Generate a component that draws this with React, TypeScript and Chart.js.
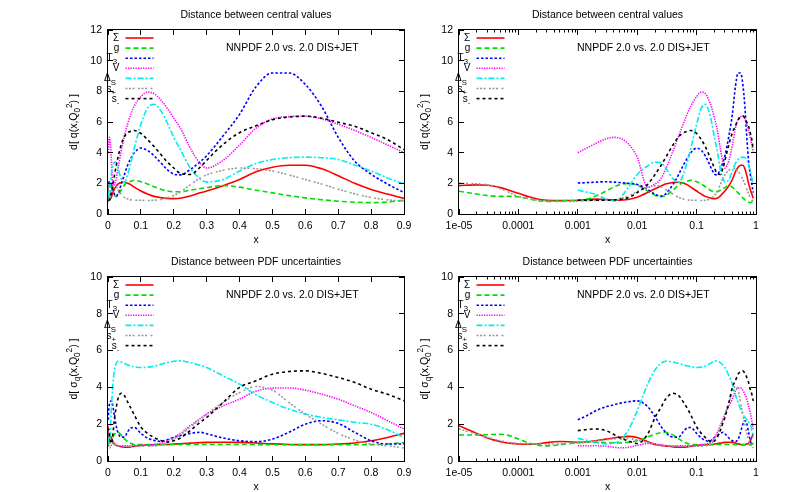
import React, { useEffect, useRef } from 'react';
import { Chart, registerables } from 'chart.js';

Chart.register(...registerables);

const FONT = '"Liberation Sans", Arial, Helvetica, sans-serif';
const FS = 10.5;
const LEG_FS = 10;
const LW = 1.6;
const N = null;

// x sampling points shared by every series (log-spaced at small x, linear at large x)
const xGrid = [1e-5, 2e-5, 3e-5, 5e-5, 7e-5, 1e-4, 1.5e-4, 2e-4, 3e-4, 5e-4, 7e-4,
  1e-3, 1.5e-3, 2e-3, 3e-3, 4e-3, 5e-3, 7e-3, 0.01, 0.015, 0.02, 0.025, 0.03, 0.04, 0.05, 0.06, 0.07, 0.08,
  0.1, 0.12, 0.14, 0.16, 0.18, 0.2, 0.22, 0.25, 0.28, 0.3, 0.35, 0.4, 0.45, 0.5, 0.55, 0.6, 0.65, 0.7, 0.75, 0.8, 0.85, 0.9];

// ---- Distance between central values ----
const cvSigma = [1.85, 1.9, 1.88, 1.72, 1.55, 1.35, 1.12, 1.0, 0.9, 0.87, 0.88,
  0.9, 0.95, 0.97, 0.95, 0.92, 0.9, 0.95, 1.1, 1.4, 1.65, 1.82, 1.95, 2.05, 2.07, 2.0, 1.9, 1.75,
  1.5, 1.3, 1.15, 1.07, 1.02, 1.0, 1.03, 1.17, 1.38, 1.5, 1.85, 2.25, 2.75, 3.05, 3.18, 3.18, 2.95, 2.5, 2.0, 1.6, 1.3, 1.02];
const cvG = [1.48, 1.3, 1.2, 1.15, 1.15, 1.12, 1.0, 0.88, 0.82, 0.85, 0.88,
  0.88, 1.0, 1.17, 1.5, 1.75, 1.9, 2.0, 1.88, 1.5, 1.22, 1.13, 1.2, 1.55, 1.9, 2.05, 2.14, 2.2,
  2.1, 1.95, 1.78, 1.62, 1.5, 1.45, 1.45, 1.55, 1.66, 1.72, 1.85, 1.75, 1.55, 1.38, 1.2, 1.05, 0.93, 0.83, 0.77, 0.74, 0.78, 0.9];
const cvT3 = [N, N, N, N, N, N, N, N, N, N, N,
  2.02, 2.05, 2.08, 2.1, 2.08, 2.05, 2.0, 1.93, 1.6, 1.28, 1.17, 1.3, 1.93, 2.58, 3.2, 3.65, 4.0,
  4.3, 4.15, 3.8, 3.35, 2.9, 2.6, 2.55, 2.9, 3.4, 3.8, 5.1, 6.5, 8.3, 9.2, 9.2, 8.45, 7.0, 5.0, 3.45, 2.6, 1.95, 1.4];
const cvV = [N, N, N, N, N, N, N, N, N, N, N,
  4.0, 4.35, 4.6, 4.9, 5.0, 4.95, 4.6, 3.7, 1.75, 1.95, 2.3, 2.9, 4.1, 5.1, 5.9, 6.55, 7.05,
  7.65, 7.95, 7.85, 7.45, 6.9, 6.25, 5.6, 4.3, 3.3, 3.0, 3.5, 4.5, 5.6, 6.2, 6.35, 6.38, 6.2, 5.85, 5.45, 5.0, 4.5, 4.0];
const cvDS = [N, N, N, N, N, N, N, N, N, N, N,
  1.56, 1.4, 1.28, 0.96, 0.85, 1.0, 1.7, 2.58, 3.13, 3.38, 3.35, 3.0, 2.3, 2.05, 2.6, 3.4, 4.3,
  5.85, 6.9, 7.15, 6.75, 5.95, 5.0, 4.2, 3.0, 2.3, 2.08, 2.25, 2.8, 3.3, 3.55, 3.67, 3.71, 3.67, 3.55, 3.2, 2.8, 2.35, 1.97];
const cvSp = [2.0, 1.97, 1.9, 1.65, 1.4, 1.15, 1.0, 0.92, 0.85, 0.82, 0.82,
  0.83, 0.86, 0.88, 0.89, 0.92, 0.98, 1.15, 1.47, 1.73, 1.84, 1.8, 1.6, 1.3, 1.08, 0.98, 0.92, 0.9,
  0.89, 0.88, 0.9, 0.95, 1.05, 1.2, 1.45, 1.9, 2.35, 2.55, 2.85, 3.0, 2.95, 2.8, 2.55, 2.25, 1.95, 1.62, 1.32, 1.08, 0.92, 0.84];
const cvSm = [N, N, N, N, N, N, N, N, N, N, N,
  0.9, 0.9, 0.9, 0.9, 0.92, 0.95, 1.06, 1.39, 1.93, 2.58, 3.15, 3.67, 4.5, 5.05, 5.3, 5.4, 5.45,
  5.25, 4.85, 4.4, 3.9, 3.4, 3.0, 2.65, 2.58, 3.05, 3.5, 4.54, 5.3, 5.75, 6.15, 6.32, 6.38, 6.25, 5.98, 5.72, 5.3, 4.85, 4.2];

// ---- Distance between PDF uncertainties ----
const unSigma = [1.92, 1.5, 1.25, 1.05, 0.97, 0.92, 0.91, 0.92, 1.0, 1.06, 1.05,
  1.02, 1.05, 1.1, 1.19, 1.25, 1.29, 1.34, 1.28, 1.05, 0.9, 0.85, 0.82, 0.77, 0.75, 0.75, 0.77, 0.8,
  0.85, 0.87, 0.88, 0.89, 0.9, 0.92, 0.94, 0.97, 1.0, 1.01, 1.02, 1.01, 0.98, 0.93, 0.9, 0.89, 0.89, 0.92, 0.98, 1.1, 1.28, 1.5];
const unG = [1.41, 1.42, 1.43, 1.45, 1.38, 1.2, 0.98, 0.87, 0.82, 0.88, 0.95,
  1.0, 1.02, 1.02, 1.0, 0.98, 0.98, 1.02, 1.1, 1.3, 1.46, 1.54, 1.56, 1.42, 1.2, 1.05, 0.95, 0.9,
  0.89, 0.89, 0.89, 0.9, 0.9, 0.9, 0.9, 0.9, 0.9, 0.9, 0.9, 0.9, 0.89, 0.89, 0.88, 0.88, 0.88, 0.88, 0.88, 0.89, 0.92, 1.0];
const unT3 = [N, N, N, N, N, N, N, N, N, N, N,
  2.24, 2.5, 2.73, 2.95, 3.05, 3.13, 3.22, 3.27, 2.95, 2.4, 1.9, 1.56, 1.3, 1.3, 1.6, 1.8, 1.82,
  1.5, 1.25, 1.12, 1.07, 1.15, 1.28, 1.38, 1.5, 1.56, 1.48, 1.25, 1.1, 1.05, 1.19, 1.56, 2.0, 2.19, 2.04, 1.56, 1.1, 0.92, 0.92];
const unV = [N, N, N, N, N, N, N, N, N, N, N,
  0.83, 0.83, 0.83, 0.8, 0.75, 0.72, 0.74, 0.85, 0.95, 0.93, 0.88, 0.84, 0.82, 0.82, 0.82, 0.83, 0.83,
  0.85, 0.87, 0.9, 0.97, 1.1, 1.28, 1.5, 1.92, 2.3, 2.55, 3.0, 3.36, 3.8, 3.96, 3.97, 3.85, 3.63, 3.36, 3.0, 2.64, 2.19, 1.74];
const unDS = [N, N, N, N, N, N, N, N, N, N, N,
  1.23, 1.1, 1.0, 0.93, 0.97, 1.1, 1.65, 2.73, 4.18, 4.95, 5.3, 5.42, 5.38, 5.3, 5.22, 5.16, 5.12,
  5.08, 5.1, 5.15, 5.25, 5.35, 5.42, 5.44, 5.35, 5.2, 5.08, 4.63, 4.18, 3.6, 3.18, 2.82, 2.55, 2.37, 2.24, 2.1, 2.0, 1.7, 1.28];
const unSp = [1.74, 1.46, 1.28, 1.1, 1.0, 0.96, 0.93, 0.92, 0.92, 0.93, 0.95,
  0.98, 1.02, 1.08, 1.15, 1.2, 1.22, 1.22, 1.15, 1.0, 0.9, 0.85, 0.83, 0.8, 0.8, 0.8, 0.8, 0.8,
  0.8, 0.8, 0.82, 0.87, 0.98, 1.2, 1.42, 1.83, 2.25, 2.55, 3.18, 3.72, 4.05, 3.85, 3.18, 2.55, 2.0, 1.5, 1.14, 0.92, 0.83, 0.71];
const unSm = [N, N, N, N, N, N, N, N, N, N, N,
  1.65, 1.72, 1.74, 1.65, 1.45, 1.28, 1.1, 0.95, 1.46, 2.37, 2.9, 3.36, 3.68, 3.55, 3.2, 2.85, 2.5,
  1.85, 1.5, 1.28, 1.12, 1.03, 1.1, 1.25, 1.65, 2.1, 2.37, 3.18, 4.0, 4.36, 4.72, 4.86, 4.9, 4.76, 4.54, 4.27, 3.9, 3.63, 3.27];

const centralSeries = [cvSigma, cvG, cvT3, cvV, cvDS, cvSp, cvSm];
const uncSeries = [unSigma, unG, unT3, unV, unDS, unSp, unSm];

type Seg = { t: string; s?: number };

const seriesPlain = ['Σ', 'g', 'T3', 'V', 'ΔS', 's+', 's-'];
const seriesNames: Seg[][] = [
  [{ t: 'Σ' }],
  [{ t: 'g' }],
  [{ t: 'T' }, { t: '3', s: -1 }],
  [{ t: 'V' }],
  [{ t: 'Δ' }, { t: 'S', s: -1 }],
  [{ t: 's' }, { t: '+', s: -1 }],
  [{ t: 's' }, { t: '-', s: -1 }],
];
const seriesColors = ['#ff0000', '#00dd00', '#0000ff', '#ff00ff', '#00eeee', '#999999', '#000000'];
const seriesDashes = [[], [5, 3], [2.5, 2], [1.3, 1.2], [6, 2, 2, 2], [2, 1.5, 2, 1.5, 2, 3.5], [3, 3]];

const xLinTicks = [0, 0.1, 0.2, 0.3, 0.4, 0.5, 0.6, 0.7, 0.8, 0.9];
const xLinLabels = ['0', '0.1', '0.2', '0.3', '0.4', '0.5', '0.6', '0.7', '0.8', '0.9'];
const xLogTicks = [1e-5, 1e-4, 1e-3, 1e-2, 1e-1, 1];
const xLogLabels = ['1e-05', '0.0001', '0.001', '0.01', '0.1', '1'];
const yTicksCentral = [0, 2, 4, 6, 8, 10, 12];
const yTicksUnc = [0, 2, 4, 6, 8, 10];

const titleCentral = 'Distance between central values';
const titleUnc = 'Distance between PDF uncertainties';
const annotation = 'NNPDF 2.0 vs. 2.0 DIS+JET';
const ylabCentral: Seg[] = [{ t: 'd[ q(x,Q' }, { t: '0', s: -1 }, { t: '2', s: 1 }, { t: ') ]' }];
const ylabUnc: Seg[] = [{ t: 'd[ σ' }, { t: 'q', s: -1 }, { t: '(x,Q' }, { t: '0', s: -1 }, { t: '2', s: 1 }, { t: ') ]' }];

// right edge of each legend label, relative to the plot's left border
const legendTextRight = [11.3, 11.3, 9, 11.3, 8, 8, 11.3];

type Box = { l: number; t: number; w: number; h: number };
type Area = { l: number; t: number; r: number; b: number };
type PanelDef = {
  key: string; canvas: Box; area: Area; log: boolean; yMax: number; yTicks: number[];
  title: string; ylab: Seg[]; series: (number | null)[][];
};

const panels: PanelDef[] = [
  { key: 'tl', canvas: { l: 0, t: 0, w: 420, h: 246 }, area: { l: 108, t: 30, r: 404, b: 214 }, log: false, yMax: 12, yTicks: yTicksCentral, title: titleCentral, ylab: ylabCentral, series: centralSeries },
  { key: 'tr', canvas: { l: 410, t: 0, w: 399, h: 246 }, area: { l: 459, t: 30, r: 756, b: 214 }, log: true, yMax: 12, yTicks: yTicksCentral, title: titleCentral, ylab: ylabCentral, series: centralSeries },
  { key: 'bl', canvas: { l: 0, t: 246, w: 420, h: 246 }, area: { l: 108, t: 277, r: 404, b: 461 }, log: false, yMax: 10, yTicks: yTicksUnc, title: titleUnc, ylab: ylabUnc, series: uncSeries },
  { key: 'br', canvas: { l: 410, t: 246, w: 399, h: 246 }, area: { l: 459, t: 277, r: 756, b: 461 }, log: true, yMax: 10, yTicks: yTicksUnc, title: titleUnc, ylab: ylabUnc, series: uncSeries },
];

function drawRich(ctx: CanvasRenderingContext2D, segs: Seg[], x: number, y: number, size: number, align: 'left' | 'center' | 'right') {
  const fontFor = (sg: Seg) => `${sg.s ? size * 0.78 : size}px ${FONT}`;
  const widths = segs.map((sg) => { ctx.font = fontFor(sg); return ctx.measureText(sg.t).width; });
  const total = widths.reduce((a, b) => a + b, 0);
  let cx = align === 'left' ? x : align === 'center' ? x - total / 2 : x - total;
  ctx.textAlign = 'left';
  ctx.textBaseline = 'alphabetic';
  segs.forEach((sg, i) => {
    ctx.font = fontFor(sg);
    const dy = sg.s === -1 ? size * 0.32 : sg.s === 1 ? -size * 0.42 : 0;
    ctx.fillText(sg.t, cx, y + dy);
    cx += widths[i];
  });
}

function makeDeco(p: PanelDef) {
  return {
    id: 'deco_' + p.key,
    afterDatasetsDraw(chart: any) {
      const ctx: CanvasRenderingContext2D = chart.ctx;
      const a = chart.chartArea;
      const xs = chart.scales.x;
      const ys = chart.scales.y;
      ctx.save();
      ctx.setLineDash([]);
      ctx.strokeStyle = '#000';
      ctx.lineWidth = 1;
      ctx.strokeRect(a.left - 0.5, a.top - 0.5, a.right - a.left + 1, a.bottom - a.top + 1);
      const TLEN = 5;
      ctx.beginPath();
      const xt = p.log ? xLogTicks : xLinTicks;
      xt.forEach((v) => {
        const x = Math.floor(xs.getPixelForValue(v)) + 0.5;
        ctx.moveTo(x, a.bottom); ctx.lineTo(x, a.bottom - TLEN);
        ctx.moveTo(x, a.top); ctx.lineTo(x, a.top + TLEN);
      });
      if (p.log) {
        for (let d = 1e-5; d < 1; d *= 10) {
          for (let m = 2; m <= 9; m++) {
            const x = Math.floor(xs.getPixelForValue(d * m)) + 0.5;
            ctx.moveTo(x, a.bottom); ctx.lineTo(x, a.bottom - 2.5);
            ctx.moveTo(x, a.top); ctx.lineTo(x, a.top + 2.5);
          }
        }
      }
      p.yTicks.forEach((v) => {
        const y = Math.floor(ys.getPixelForValue(v)) + 0.5;
        ctx.moveTo(a.left, y); ctx.lineTo(a.left + TLEN, y);
        ctx.moveTo(a.right, y); ctx.lineTo(a.right - TLEN, y);
      });
      ctx.stroke();

      ctx.fillStyle = '#000';
      const cx = (a.left + a.right) / 2;
      ctx.font = `${FS}px ${FONT}`;
      ctx.textAlign = 'center';
      ctx.textBaseline = 'middle';
      ctx.fillText(p.title, cx, a.top - 15);
      ctx.fillText('x', cx, a.bottom + 26);
      ctx.textAlign = 'left';
      ctx.fillText(annotation, a.left + 118, a.top + 18);

      ctx.save();
      ctx.translate(a.left - 35, (a.top + a.bottom) / 2);
      ctx.rotate(-Math.PI / 2);
      drawRich(ctx, p.ylab, 0, FS * 0.35, FS, 'center');
      ctx.restore();

      seriesNames.forEach((segs, i) => {
        const y = a.top + 8 + 10.1 * i;
        ctx.fillStyle = '#000';
        drawRich(ctx, segs, a.left + legendTextRight[i], y + LEG_FS * 0.3, LEG_FS, 'right');
        ctx.beginPath();
        ctx.strokeStyle = seriesColors[i];
        ctx.lineWidth = LW;
        ctx.setLineDash(seriesDashes[i]);
        ctx.moveTo(a.left + 17.5, y);
        ctx.lineTo(a.left + 45.5, y);
        ctx.stroke();
      });
      ctx.restore();
    },
  };
}

function makeConfig(p: PanelDef): any {
  const xTickVals = p.log ? xLogTicks : xLinTicks;
  const xTickLabels = p.log ? xLogLabels : xLinLabels;
  const datasets = p.series.map((ys, i) => ({
    label: seriesPlain[i],
    data: xGrid.map((x, k) => ({ x, y: ys[k] })),
    borderColor: seriesColors[i],
    backgroundColor: seriesColors[i],
    borderWidth: LW,
    borderDash: seriesDashes[i],
    pointRadius: 0,
    fill: false,
    cubicInterpolationMode: 'monotone',
    order: 6 - i,
  }));
  const tickFont = { family: FONT, size: FS };
  return {
    type: 'line',
    data: { datasets },
    options: {
      animation: false,
      responsive: false,
      events: [],
      layout: { padding: { left: 0, top: p.area.t - p.canvas.t, right: p.canvas.l + p.canvas.w - p.area.r, bottom: 0 } },
      plugins: { legend: { display: false }, tooltip: { enabled: false }, title: { display: false } },
      scales: {
        x: {
          type: p.log ? 'logarithmic' : 'linear',
          min: p.log ? 1e-5 : 0,
          max: p.log ? 1 : 0.9,
          grid: { display: false, drawTicks: false },
          border: { display: false },
          afterBuildTicks: (s: any) => { s.ticks = xTickVals.map((v) => ({ value: v })); },
          afterFit: (s: any) => { s.height = p.canvas.t + p.canvas.h - p.area.b; },
          ticks: { autoSkip: false, maxRotation: 0, minRotation: 0, padding: 6, color: '#000', font: tickFont, callback: (_v: any, i: number) => xTickLabels[i] },
        },
        y: {
          type: 'linear',
          min: 0,
          max: p.yMax,
          grid: { display: false, drawTicks: false },
          border: { display: false },
          afterBuildTicks: (s: any) => { s.ticks = p.yTicks.map((v) => ({ value: v })); },
          afterFit: (s: any) => { s.width = p.area.l - p.canvas.l; },
          ticks: { autoSkip: false, padding: 6, color: '#000', font: tickFont, callback: (_v: any, i: number) => String(p.yTicks[i]) },
        },
      },
    },
    plugins: [makeDeco(p)],
  };
}

function Panel({ p }: { p: PanelDef }) {
  const ref = useRef<HTMLCanvasElement>(null);
  useEffect(() => {
    const chart = new Chart(ref.current as HTMLCanvasElement, makeConfig(p));
    return () => chart.destroy();
  }, [p]);
  return (
    <canvas
      ref={ref}
      width={p.canvas.w}
      height={p.canvas.h}
      style={{ position: 'absolute', left: p.canvas.l, top: p.canvas.t, width: p.canvas.w, height: p.canvas.h }}
    />
  );
}

export default function App() {
  return (
    <div style={{ position: 'absolute', left: 0, top: 0, width: 809, height: 492, background: '#fff' }}>
      {panels.map((p) => <Panel key={p.key} p={p} />)}
    </div>
  );
}
